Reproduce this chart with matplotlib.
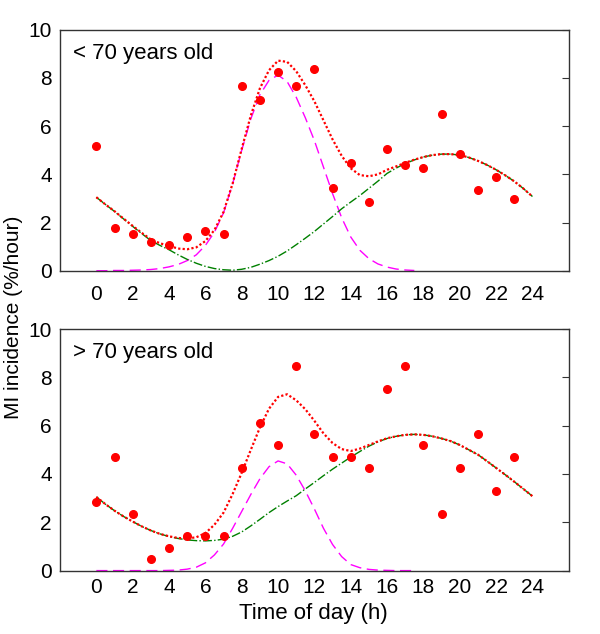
import matplotlib
matplotlib.use("Agg")
import matplotlib.pyplot as plt
import numpy as np

plt.rcParams['font.family'] = ['Liberation Sans', 'DejaVu Sans']

# hourly observed incidence
hours = np.arange(24)
young = [5.19, 1.77, 1.52, 1.19, 1.05, 1.41, 1.66, 1.54, 7.66, 7.08, 8.24, 7.68,
         8.37, 3.43, 4.48, 2.84, 5.06, 4.37, 4.26, 6.50, 4.84, 3.33, 3.89, 2.96]
old = [2.83, 4.71, 2.36, 0.48, 0.95, 1.42, 1.42, 1.44, 4.25, 6.11, 5.19, 8.48,
       5.65, 4.71, 4.71, 4.24, 7.52, 8.48, 5.19, 2.36, 4.24, 5.65, 3.31, 4.71]

# fitted curves, read every half hour
t_fit = np.arange(0, 24.5, 0.5)
t_peak = np.arange(0, 18.0, 0.5)

young_green = [3.05, 2.75, 2.46, 2.15, 1.84, 1.54, 1.25, 1.05, 0.87, 0.66, 0.47, 0.31,
               0.18, 0.09, 0.04, 0.02, 0.06, 0.14, 0.27, 0.42, 0.60, 0.82, 1.08, 1.35,
               1.63, 1.94, 2.25, 2.57, 2.85, 3.12, 3.42, 3.72, 4.04, 4.26, 4.45, 4.60,
               4.72, 4.80, 4.84, 4.84, 4.80, 4.70, 4.56, 4.39, 4.19, 3.96, 3.71, 3.41, 3.08]
young_magenta = [0.00, 0.00, 0.01, 0.01, 0.02, 0.03, 0.05, 0.09, 0.16, 0.26, 0.42, 0.66,
                 1.05, 1.60, 2.40, 3.60, 5.00, 6.30, 7.30, 7.90, 8.12, 7.85, 7.20, 6.35,
                 5.40, 4.30, 3.20, 2.20, 1.40, 0.85, 0.50, 0.28, 0.15, 0.07, 0.03, 0.01]
young_red = [3.05, 2.75, 2.47, 2.16, 1.86, 1.57, 1.30, 1.14, 1.03, 0.92, 0.89, 0.97,
             1.23, 1.69, 2.44, 3.62, 5.06, 6.44, 7.57, 8.32, 8.72, 8.67, 8.28, 7.70,
             7.03, 6.24, 5.45, 4.77, 4.25, 3.97, 3.92, 4.00, 4.19, 4.33, 4.48, 4.61,
             4.72, 4.80, 4.84, 4.84, 4.80, 4.70, 4.56, 4.39, 4.19, 3.96, 3.71, 3.41, 3.08]

old_green = [3.05, 2.75, 2.48, 2.24, 2.03, 1.83, 1.66, 1.52, 1.41, 1.33, 1.27, 1.24,
             1.23, 1.25, 1.30, 1.42, 1.60, 1.85, 2.12, 2.40, 2.65, 2.88, 3.10, 3.38,
             3.65, 3.93, 4.20, 4.45, 4.70, 4.93, 5.15, 5.33, 5.47, 5.56, 5.62, 5.64,
             5.62, 5.56, 5.47, 5.36, 5.20, 5.00, 4.80, 4.53, 4.25, 3.97, 3.68, 3.38, 3.08]
old_magenta = [0.00, 0.00, 0.00, 0.00, 0.00, 0.00, 0.00, 0.00, 0.01, 0.02, 0.06, 0.14,
               0.32, 0.65, 1.10, 1.75, 2.45, 3.15, 3.80, 4.30, 4.54, 4.42, 3.95, 3.30,
               2.55, 1.75, 1.08, 0.58, 0.25, 0.12, 0.05, 0.02, 0.01, 0.00, 0.00, 0.00]
old_red = [3.05, 2.75, 2.48, 2.24, 2.03, 1.83, 1.66, 1.52, 1.42, 1.35, 1.33, 1.38,
           1.55, 1.90, 2.40, 3.17, 4.05, 5.00, 5.92, 6.70, 7.19, 7.30, 7.05, 6.68,
           6.20, 5.68, 5.28, 5.03, 4.95, 5.05, 5.20, 5.35, 5.48, 5.56, 5.62, 5.64,
           5.62, 5.56, 5.47, 5.36, 5.20, 5.00, 4.80, 4.53, 4.25, 3.97, 3.68, 3.38, 3.08]

panels = [("< 70 years old", young, young_green, young_magenta, young_red, 10),
          ("> 70 years old", old, old_green, old_magenta, old_red, 5)]

fig = plt.figure(figsize=(6.0, 6.34), dpi=100)
boxes = [[0.100, 0.573, 0.848, 0.380], [0.100, 0.100, 0.848, 0.381]]

for box, (label, obs, green, magenta, red, xpad) in zip(boxes, panels):
    ax = fig.add_axes(box)
    ax.plot(t_peak, magenta, color='#ff00ff', lw=1.0, ls=(0, (8, 4)))
    ax.plot(t_fit, green, color='#008000', lw=1.0, ls='-.')
    ax.plot(t_fit, red, color='red', lw=1.6, ls=(0, (1, 1)))
    ax.plot(hours, obs, 'o', color='red', ms=5.5, mec='red')

    ax.set_xlim(-2, 26)
    ax.set_ylim(0, 10)
    ax.set_xticks(np.arange(0, 25, 2))
    ax.set_xticks([2, 6, 10, 14, 18, 22], minor=True)
    ax.set_yticks(np.arange(0, 11, 2))
    ax.tick_params(axis='x', which='major', length=0, labelsize=15, pad=xpad)
    ax.tick_params(axis='x', which='minor', direction='in', length=4,
                   top=True, bottom=True, color='#333333')
    ax.tick_params(axis='y', left=False, right=True, direction='in', length=5,
                   labelleft=True, labelsize=15, pad=6, color='#333333')
    for s in ax.spines.values():
        s.set_color('#333333')
        s.set_linewidth(1.0)
    ax.text(0.025, 0.945, label, transform=ax.transAxes, ha='left', va='top',
            fontsize=16)

fig.text(0.023, 0.5, 'MI incidence (%/hour)', rotation=90, ha='center',
         va='center', fontsize=15)
fig.text(0.522, 0.033, 'Time of day (h)', ha='center', va='center', fontsize=16)

fig.savefig('out.png', dpi=100)
